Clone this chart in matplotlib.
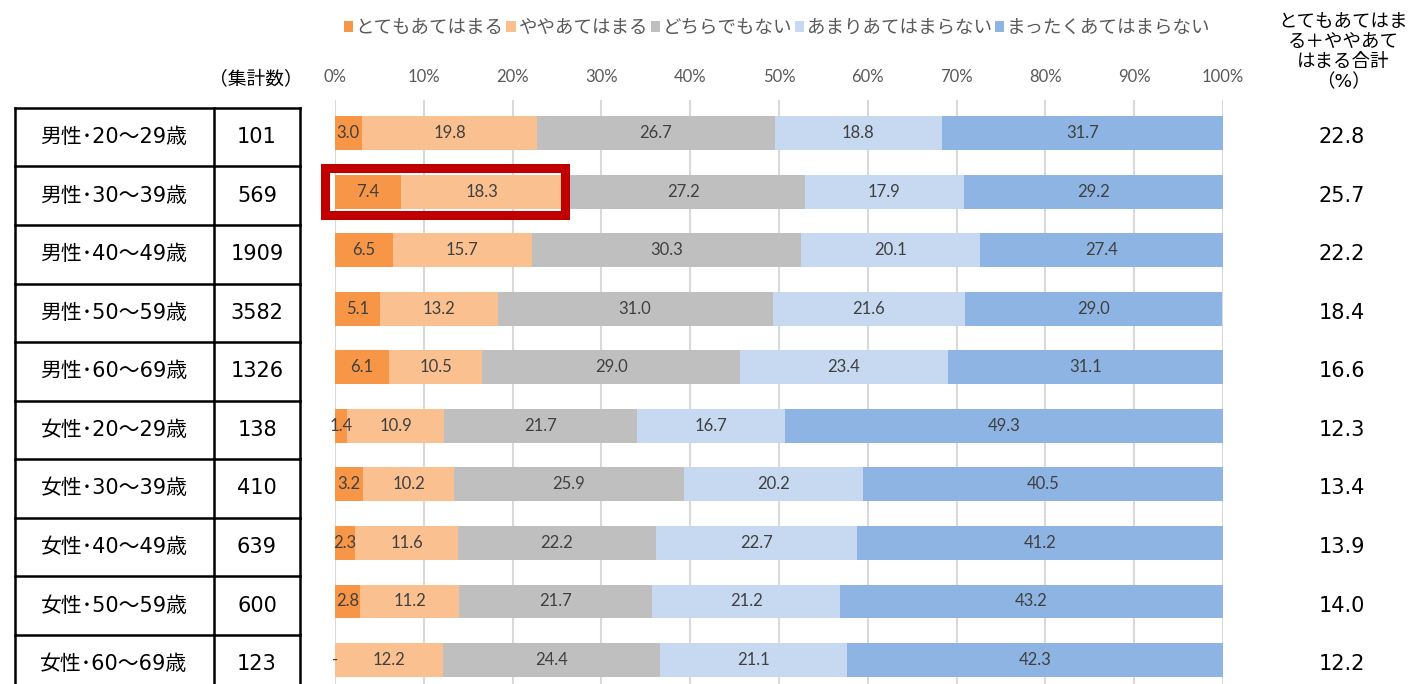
import matplotlib
matplotlib.use("Agg")
import matplotlib.pyplot as plt
import matplotlib.transforms as mtransforms
from matplotlib.patches import Rectangle, Patch
import numpy as np

plt.rcParams['font.family'] = ['DejaVu Sans', 'Noto Sans CJK JP']
num_font = ['Lato', 'Noto Sans CJK JP']

groups = ["男性･20～29歳", "男性･30～39歳", "男性･40～49歳", "男性･50～59歳", "男性･60～69歳",
          "女性･20～29歳", "女性･30～39歳", "女性･40～49歳", "女性･50～59歳", "女性･60～69歳"]
counts = [101, 569, 1909, 3582, 1326, 138, 410, 639, 600, 123]
series = ["とてもあてはまる", "ややあてはまる", "どちらでもない", "あまりあてはまらない", "まったくあてはまらない"]
very = [3.0, 7.4, 6.5, 5.1, 6.1, 1.4, 3.2, 2.3, 2.8, 0.0]
some = [19.8, 18.3, 15.7, 13.2, 10.5, 10.9, 10.2, 11.6, 11.2, 12.2]
neutral = [26.7, 27.2, 30.3, 31.0, 29.0, 21.7, 25.9, 22.2, 21.7, 24.4]
little = [18.8, 17.9, 20.1, 21.6, 23.4, 16.7, 20.2, 22.7, 21.2, 21.1]
none_ = [31.7, 29.2, 27.4, 29.0, 31.1, 49.3, 40.5, 41.2, 43.2, 42.3]
totals = [22.8, 25.7, 22.2, 18.4, 16.6, 12.3, 13.4, 13.9, 14.0, 12.2]
colors = ["#F79646", "#FAC090", "#BFBFBF", "#C6D9F0", "#8DB4E2"]

W, H = 1410, 684
fig = plt.figure(figsize=(W / 100, H / 100), dpi=100)
ax = fig.add_axes([335 / W, 0, (1223 - 335) / W, (684 - 100) / H])

y = np.arange(len(groups))
left = np.zeros(len(groups))
for vals, col, name in zip([very, some, neutral, little, none_], colors, series):
    vals = np.array(vals)
    bars = ax.barh(y, vals, left=left, height=0.58, color=col, label=name, zorder=2)
    labels = ["-" if v == 0 else f"{v:.1f}" for v in vals]
    ax.bar_label(bars, labels=labels, label_type="center", fontsize=12, color="#404040",
                 family=num_font)
    left += vals

ax.set_xlim(0, 100)
ax.set_ylim(9.409, -0.5635)
ax.set_xticks(np.arange(0, 101, 10))
ax.set_xticklabels([f"{t}%" for t in range(0, 101, 10)], family=num_font)
ax.xaxis.tick_top()
ax.tick_params(axis="x", length=0, pad=11, labelsize=12, labelcolor="#595959")
ax.set_yticks([])
ax.grid(axis="x", color="#D9D9D9", linewidth=1.5, zorder=0)
ax.set_axisbelow(True)
for s in ax.spines.values():
    s.set_visible(False)

# red highlight box around row 2
box = Rectangle((-1.1, 1 - 0.40), 27.0, 0.80, fill=False, edgecolor="#C00000",
                linewidth=6.5, zorder=5, clip_on=False)
ax.add_patch(box)

# table on the left (x in figure fraction, y in data)
tr = mtransforms.blended_transform_factory(fig.transFigure, ax.transData)
x0, x1, x2 = 15 / W, 214 / W, 300 / W
for k in range(len(groups) + 1):
    yy = k - 0.43
    ax.plot([x0, x2], [yy, yy], color="black", lw=1.8, transform=tr, clip_on=False)
for xx in (x0, x1, x2):
    ax.plot([xx, xx], [-0.43, 9.6], color="black", lw=1.8, transform=tr, clip_on=False)
for i, (g, c, t) in enumerate(zip(groups, counts, totals)):
    ax.text(114 / W, i + 0.07, g, transform=tr, ha="center", va="center", fontsize=15, color="#000000")
    ax.text(257 / W, i + 0.07, str(c), transform=tr, ha="center", va="center", fontsize=15, color="#000000")
    ax.text(1342 / W, i + 0.07, f"{t:.1f}", transform=tr, ha="center", va="center", fontsize=15, color="#000000")

fig.text(256 / W, 1 - 79 / H, "（集計数）", ha="center", va="center", fontsize=13.5)
fig.text(1343 / W, 1 - 52 / H, "とてもあてはま\nる＋ややあて\nはまる合計\n（%）",
         ha="center", va="center", fontsize=13.3, linespacing=1.15)

handles = [Patch(facecolor=c, label=s) for c, s in zip(colors, series)]
leg = fig.legend(handles=handles, loc="center", bbox_to_anchor=(777 / W, 1 - 28 / H), ncol=5,
                 frameon=False, fontsize=13.3, handlelength=0.5, handleheight=0.5,
                 handletextpad=0.15, columnspacing=0.15, labelcolor="#595959")

fig.savefig("out.png", dpi=100)
